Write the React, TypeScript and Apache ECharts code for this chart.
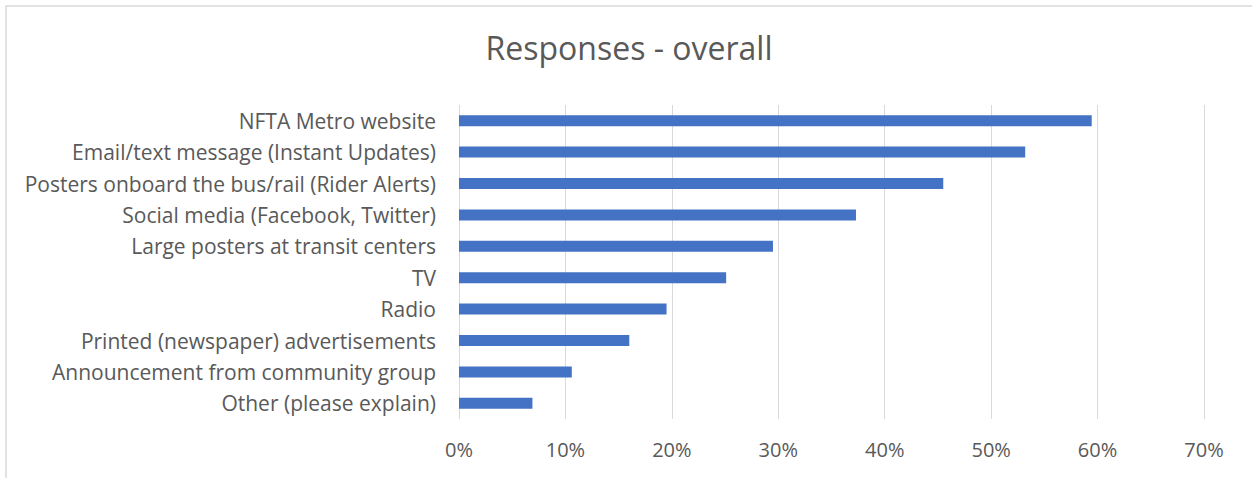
import React, { useEffect, useRef } from "react";
import * as echarts from "echarts";

const categories = [
  "NFTA Metro website",
  "Email/text message (Instant Updates)",
  "Posters onboard the bus/rail (Rider Alerts)",
  "Social media (Facebook, Twitter)",
  "Large posters at transit centers",
  "TV",
  "Radio",
  "Printed (newspaper) advertisements",
  "Announcement from community group",
  "Other (please explain)",
];
const values = [59.45, 53.2, 45.5, 37.3, 29.5, 25.1, 19.5, 16.0, 10.6, 6.9];
const titleText = "Responses - overall";

const FONT = "'Open Sans', Lato, sans-serif";
const TEXT = "#595959";

export default function App() {
  const ref = useRef<HTMLDivElement>(null);
  useEffect(() => {
    if (!ref.current) return;
    const chart = echarts.init(ref.current, undefined, { renderer: "svg" });
    chart.setOption({
      animation: false,
      backgroundColor: "#ffffff",
      title: {
        text: titleText,
        left: 624,
        textAlign: "center",
        top: 26,
        textStyle: { fontFamily: FONT, fontSize: 32, fontWeight: "normal", color: TEXT },
      },
      graphic: [
        {
          type: "rect",
          shape: { x: 6, y: 6, width: 1300, height: 520 },
          style: { fill: "none", stroke: "#d9d9d9", lineWidth: 1.5 },
          silent: true,
        },
      ],
      grid: { left: 459, right: 48, top: 105, bottom: 59, containLabel: false },
      xAxis: {
        type: "value",
        min: 0,
        max: 70,
        interval: 10,
        axisLine: { show: false },
        axisTick: { show: false },
        splitLine: { show: true, lineStyle: { color: "#d9d9d9", width: 1 } },
        axisLabel: {
          formatter: "{value}%",
          margin: 20,
          fontFamily: FONT,
          fontSize: 20,
          color: TEXT,
        },
      },
      yAxis: {
        type: "category",
        data: categories,
        inverse: true,
        axisLine: { show: false },
        axisTick: { show: false },
        splitLine: { show: false },
        axisLabel: {
          margin: 23,
          fontFamily: FONT,
          fontSize: 21,
          color: TEXT,
        },
      },
      series: [
        {
          type: "bar",
          data: values,
          barWidth: 11,
          itemStyle: { color: "#4472c4" },
          silent: true,
        },
      ],
    });
    return () => chart.dispose();
  }, []);
  return (
    <div
      ref={ref}
      style={{ position: "absolute", left: 0, top: 0, width: 1252, height: 478 }}
    />
  );
}
